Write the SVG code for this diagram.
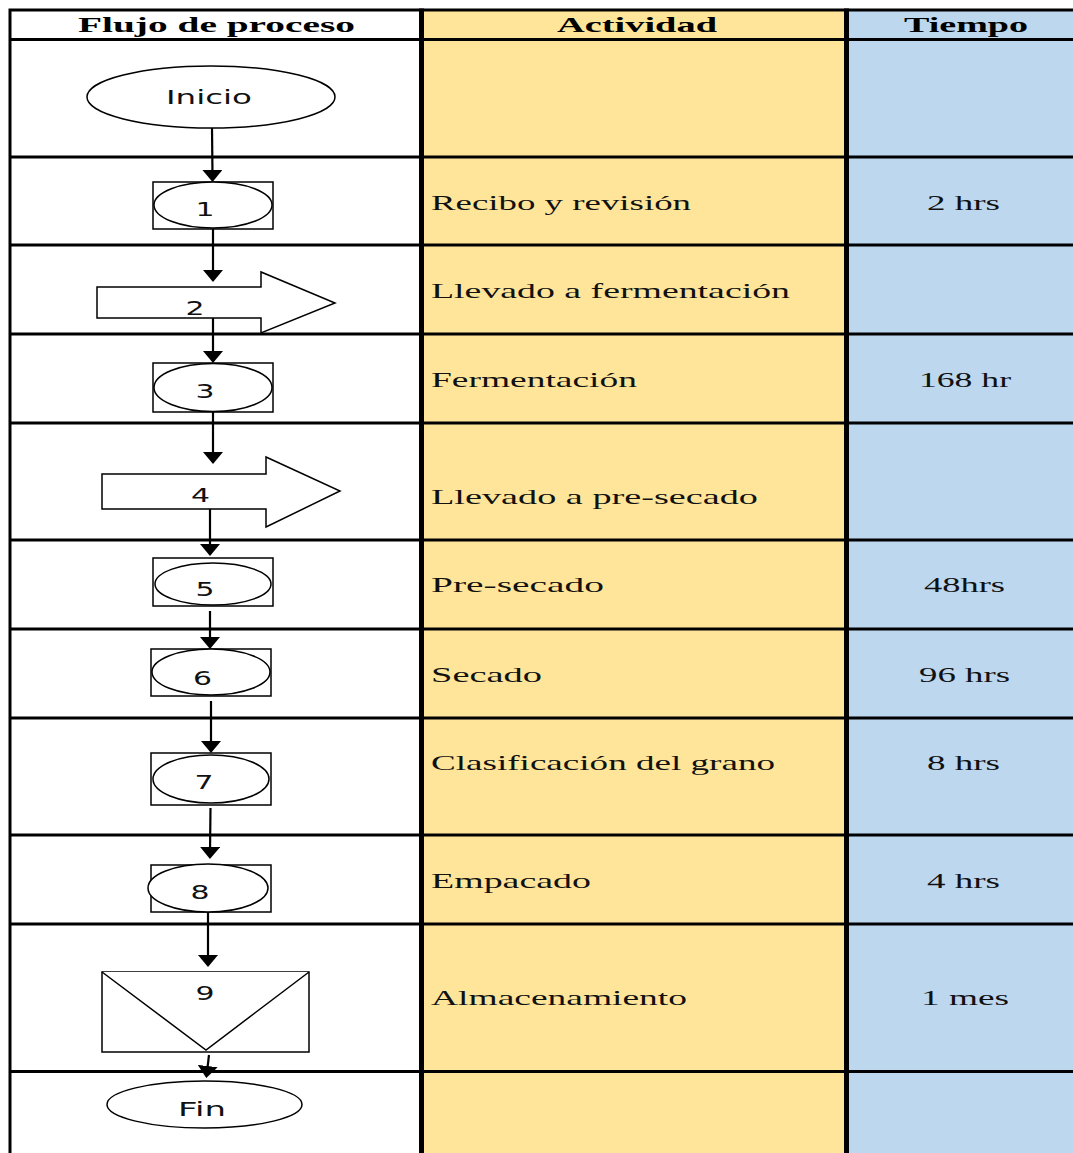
<svg xmlns="http://www.w3.org/2000/svg" width="1073" height="1153" viewBox="0 0 1073 1153">
<style>
.grid{stroke:#000;stroke-width:3;fill:none}
.div{stroke:#000;stroke-width:5;fill:none}
.shape{fill:#fff;stroke:#000;stroke-width:1.5}
.conn{stroke:#000;stroke-width:2.2;fill:none}
.lbl{font-family:"DejaVu Sans",Verdana,sans-serif;font-size:19px;fill:#111}
.hdr{font-family:"Liberation Serif","Times New Roman",serif;font-size:21px;font-weight:bold;fill:#000}
.txt{font-family:"Liberation Serif","Times New Roman",serif;font-size:22px;fill:#111}
</style>
<defs>
<marker id="ah" markerUnits="userSpaceOnUse" markerWidth="12" markerHeight="20" viewBox="0 0 12 20" refX="6" refY="10" orient="auto">
<path d="M0,0 L12,10 L0,20 z" fill="#000"/>
</marker>
</defs>
<rect x="0" y="0" width="1073" height="1153" fill="#fff"/>
<g id="table">
<rect x="422" y="10" width="425" height="1143" fill="#FFE599"/>
<rect x="847" y="10" width="226" height="1143" fill="#BDD7EE"/>
<path class="grid" d="M8.5,10H1073 M8.5,39.5H1073 M8.5,157H1073 M8.5,245H1073 M8.5,334H1073 M8.5,423H1073 M8.5,540H1073 M8.5,629H1073 M8.5,718H1073 M8.5,835H1073 M8.5,924H1073 M8.5,1071.5H1073 M10,8.5V1153"/>
<path class="div" d="M421.5,8.5V1153 M846.5,8.5V1153"/>
<text class="hdr" x="78" y="32" textLength="277" lengthAdjust="spacingAndGlyphs">Flujo de proceso</text>
<text class="hdr" x="557" y="32" textLength="160" lengthAdjust="spacingAndGlyphs">Actividad</text>
<text class="hdr" x="904" y="32" textLength="124" lengthAdjust="spacingAndGlyphs">Tiempo</text>
<text class="txt" x="431" y="210" textLength="260" lengthAdjust="spacingAndGlyphs">Recibo y revisión</text>
<text class="txt" x="431" y="298" textLength="359" lengthAdjust="spacingAndGlyphs">Llevado a fermentación</text>
<text class="txt" x="431" y="387" textLength="206" lengthAdjust="spacingAndGlyphs">Fermentación</text>
<text class="txt" x="431" y="504" textLength="327" lengthAdjust="spacingAndGlyphs">Llevado a pre-secado</text>
<text class="txt" x="431" y="592" textLength="173" lengthAdjust="spacingAndGlyphs">Pre-secado</text>
<text class="txt" x="431" y="682" textLength="111" lengthAdjust="spacingAndGlyphs">Secado</text>
<text class="txt" x="431" y="770" textLength="344" lengthAdjust="spacingAndGlyphs">Clasificación del grano</text>
<text class="txt" x="431" y="888" textLength="160" lengthAdjust="spacingAndGlyphs">Empacado</text>
<text class="txt" x="431" y="1005" textLength="256" lengthAdjust="spacingAndGlyphs">Almacenamiento</text>
<text class="txt" x="927" y="210" textLength="73" lengthAdjust="spacingAndGlyphs">2 hrs</text>
<text class="txt" x="919" y="387" textLength="92" lengthAdjust="spacingAndGlyphs">168 hr</text>
<text class="txt" x="924" y="592" textLength="81" lengthAdjust="spacingAndGlyphs">48hrs</text>
<text class="txt" x="919" y="682" textLength="91" lengthAdjust="spacingAndGlyphs">96 hrs</text>
<text class="txt" x="927" y="770" textLength="73" lengthAdjust="spacingAndGlyphs">8 hrs</text>
<text class="txt" x="927" y="888" textLength="73" lengthAdjust="spacingAndGlyphs">4 hrs</text>
<text class="txt" x="921" y="1005" textLength="88" lengthAdjust="spacingAndGlyphs">1 mes</text>
</g>
<g id="connectors">
<line class="conn" x1="212" y1="128" x2="212.5" y2="176" marker-end="url(#ah)"/>
<line class="conn" x1="213" y1="229" x2="213" y2="276" marker-end="url(#ah)"/>
<line class="conn" x1="213" y1="318" x2="213" y2="357" marker-end="url(#ah)"/>
<line class="conn" x1="213" y1="412" x2="213" y2="458" marker-end="url(#ah)"/>
<line class="conn" x1="210" y1="509" x2="210" y2="550" marker-end="url(#ah)"/>
<line class="conn" x1="210" y1="611" x2="210" y2="643" marker-end="url(#ah)"/>
<line class="conn" x1="211" y1="701" x2="211" y2="747" marker-end="url(#ah)"/>
<line class="conn" x1="210.5" y1="808" x2="210" y2="853" marker-end="url(#ah)"/>
<line class="conn" x1="208" y1="912" x2="208" y2="961" marker-end="url(#ah)"/>
<line class="conn" x1="209" y1="1055" x2="207" y2="1072" marker-end="url(#ah)"/>
</g>
<g id="inicio">
<ellipse class="shape" cx="211" cy="97" rx="124" ry="31"/>
<text class="lbl" x="166" y="104" textLength="86" lengthAdjust="spacingAndGlyphs">Inicio</text>
</g>
<g id="n1">
<rect class="shape" x="153" y="182" width="120" height="47"/>
<ellipse class="shape" cx="213" cy="205" rx="59" ry="23"/>
<text class="lbl" x="195.5" y="216" textLength="19" lengthAdjust="spacingAndGlyphs">1</text>
</g>
<g id="n2">
<polygon class="shape" points="97,287 261,287 261,272 335,303 261,333 261,318 97,318"/>
<text class="lbl" x="185.5" y="315" textLength="19" lengthAdjust="spacingAndGlyphs">2</text>
</g>
<g id="n3">
<rect class="shape" x="153" y="363" width="120" height="49"/>
<ellipse class="shape" cx="213" cy="387.5" rx="59" ry="24"/>
<text class="lbl" x="195.5" y="398" textLength="19" lengthAdjust="spacingAndGlyphs">3</text>
</g>
<g id="n4">
<polygon class="shape" points="102,474 266,474 266,457 340,491 266,527 266,509 102,509"/>
<text class="lbl" x="191" y="502" textLength="19" lengthAdjust="spacingAndGlyphs">4</text>
</g>
<g id="n5">
<rect class="shape" x="153" y="558" width="120" height="48"/>
<ellipse class="shape" cx="213" cy="584" rx="58" ry="21"/>
<text class="lbl" x="195.5" y="596" textLength="19" lengthAdjust="spacingAndGlyphs">5</text>
</g>
<g id="n6">
<rect class="shape" x="151" y="649" width="120" height="47"/>
<ellipse class="shape" cx="211" cy="672" rx="59" ry="23"/>
<text class="lbl" x="193" y="685" textLength="19" lengthAdjust="spacingAndGlyphs">6</text>
</g>
<g id="n7">
<rect class="shape" x="151" y="753" width="120" height="52"/>
<ellipse class="shape" cx="211" cy="779" rx="58" ry="24"/>
<text class="lbl" x="194.5" y="789" textLength="19" lengthAdjust="spacingAndGlyphs">7</text>
</g>
<g id="n8">
<rect class="shape" x="151" y="865" width="120" height="47"/>
<ellipse class="shape" cx="208" cy="888" rx="60" ry="24"/>
<text class="lbl" x="190.5" y="899" textLength="19" lengthAdjust="spacingAndGlyphs">8</text>
</g>
<g id="n9">
<rect class="shape" x="102" y="972" width="207" height="80"/>
<polyline class="shape" fill="none" points="102,972 206,1050 309,972"/>
<text class="lbl" x="195.5" y="1000" textLength="19" lengthAdjust="spacingAndGlyphs">9</text>
</g>
<g id="fin">
<ellipse class="shape" cx="204.5" cy="1104.5" rx="97.5" ry="23.5"/>
<text class="lbl" x="178" y="1116" textLength="48" lengthAdjust="spacingAndGlyphs">Fin</text>
</g>
</svg>
